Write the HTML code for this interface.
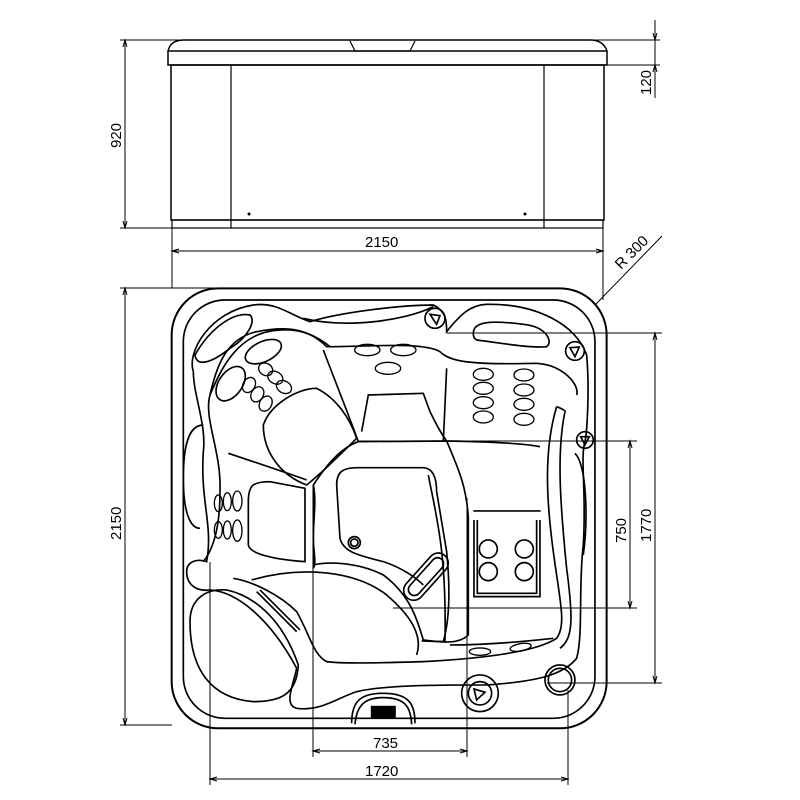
<!DOCTYPE html>
<html><head><style>
html,body{margin:0;padding:0;background:#fff;}
svg{display:block;}
text{font-family:"Liberation Sans",Arial,sans-serif;font-size:15px;fill:#000;}
</style></head><body>
<svg width="800" height="800" viewBox="0 0 800 800" xmlns="http://www.w3.org/2000/svg">
<g fill="none" stroke="#000" stroke-width="1">
<!-- Elevation view -->
<path d="M168,51 C170,43 175,40 185,40 L590,40 C600,40 605,45 607,51" stroke-width="1.5"/>
<rect x="168" y="51" width="439" height="14" stroke-width="1.5"/>
<path d="M350,41 L355,51 L410,51 L415,41" stroke-width="1.2"/>
<rect x="171" y="65" width="433" height="155" stroke-width="1.5"/>
<line x1="231" y1="65" x2="231" y2="228" stroke-width="1.2"/>
<line x1="544" y1="65" x2="544" y2="228" stroke-width="1.2"/>
<rect x="172" y="220" width="431" height="8" stroke-width="1.2"/>
<circle cx="249" cy="214" r="1" fill="#000"/>
<circle cx="525" cy="214" r="1" fill="#000"/>
<!-- 920 dim -->
<line x1="120" y1="40" x2="350" y2="40"/>
<line x1="120" y1="228" x2="172" y2="228"/>
<line x1="125" y1="40" x2="125" y2="228"/>
<path d="M123,47 L125,40 L127,47 M123,221 L125,228 L127,221"/>
<!-- 120 dim -->
<line x1="415" y1="40" x2="660" y2="40"/>
<line x1="607" y1="65" x2="660" y2="65"/>
<line x1="655" y1="20" x2="655" y2="98"/>
<path d="M653,33 L655,40 L657,33 M653,72 L655,65 L657,72"/>
<!-- 2150 horizontal -->
<line x1="172" y1="228" x2="172" y2="288"/>
<line x1="603" y1="228" x2="603" y2="300"/>
<line x1="172" y1="251" x2="603" y2="251"/>
<path d="M179,249 L172,251 L179,253 M596,249 L603,251 L596,253"/>
<!-- R300 -->
<line x1="596" y1="304" x2="662" y2="236"/>
<!-- plan dims -->
<line x1="120" y1="288" x2="250" y2="288"/>
<line x1="120" y1="725" x2="172" y2="725"/>
<line x1="125" y1="288" x2="125" y2="725"/>
<path d="M123,295 L125,288 L127,295 M123,718 L125,725 L127,718"/>
<line x1="447" y1="333" x2="662" y2="333"/>
<line x1="547" y1="683" x2="662" y2="683"/>
<line x1="655" y1="333" x2="655" y2="683"/>
<path d="M653,340 L655,333 L657,340 M653,676 L655,683 L657,676"/>
<line x1="358" y1="441" x2="637" y2="441"/>
<line x1="393" y1="608" x2="637" y2="608"/>
<line x1="630" y1="441" x2="630" y2="608"/>
<path d="M628,448 L630,441 L632,448 M628,601 L630,608 L632,601"/>
<line x1="210" y1="562" x2="210" y2="785"/>
<line x1="313" y1="485" x2="313" y2="757"/>
<line x1="467" y1="498" x2="467" y2="757"/>
<line x1="568" y1="690" x2="568" y2="785"/>
<line x1="313" y1="751" x2="467" y2="751"/>
<path d="M320,749 L313,751 L320,753 M460,749 L467,751 L460,753"/>
<line x1="210" y1="779" x2="568" y2="779"/>
<path d="M217,777 L210,779 L217,781 M561,777 L568,779 L561,781"/>
</g>
<text x="365" y="247">2150</text>
<text x="373" y="748">735</text>
<text x="365" y="776">1720</text>
<text transform="translate(121,148) rotate(-90)">920</text>
<text transform="translate(651,95) rotate(-90)">120</text>
<text transform="translate(121,540) rotate(-90)">2150</text>
<text transform="translate(651,542) rotate(-90)">1770</text>
<text transform="translate(626,543) rotate(-90)">750</text>
<text transform="translate(621,270) rotate(-45)">R 300</text>

<!-- Plan view in zoom coords -->
<g transform="translate(170,285) scale(0.3333)" fill="none" stroke="#000" stroke-width="5">
<rect x="5" y="10" width="1305" height="1320" rx="140" stroke-width="6"/>
<rect x="40" y="45" width="1235" height="1255" rx="125"/>
<!-- outer tub line -->
<path d="M70,260 C50,200 120,80 250,60 C320,50 360,90 420,110 C520,80 700,60 790,60 C830,80 830,110 830,140 C870,90 900,60 950,58 C1100,55 1220,120 1250,210 C1260,320 1250,450 1245,470 C1230,520 1250,620 1240,780 C1225,900 1240,1050 1220,1120 C1180,1170 1100,1190 950,1200 C800,1200 650,1200 560,1220 C500,1240 450,1280 380,1270 C340,1260 370,1200 380,1150"/>
<path d="M380,1150 C300,1000 200,920 120,915 C80,920 50,900 50,860 C50,830 80,820 110,830 C130,720 90,650 100,500 C110,420 70,330 70,260"/>
<path d="M100,830 C140,780 150,700 150,620 C155,500 100,400 120,330 C140,240 170,160 260,140 C360,120 420,135 470,185 C600,185 760,170 810,200 C840,230 900,240 1100,235 C1180,240 1230,300 1220,330"/>
<path d="M120,330 C150,260 200,140 330,135 C400,130 450,160 480,185"/>
<path d="M1160,365 C1120,500 1130,650 1150,800 C1170,950 1190,1020 1160,1060 C1100,1100 950,1120 760,1130 C600,1135 500,1135 470,1130 C430,1110 420,1050 380,980 C330,930 250,890 190,880"/>
<path d="M1185,380 C1160,500 1170,650 1190,850 C1210,1000 1210,1060 1170,1090"/>
<path d="M1160,365 C1175,370 1190,380 1185,380"/>
<!-- left seat / top lounges -->
<path d="M175,505 C250,530 340,560 410,585"/>
<path d="M460,195 C500,300 540,400 565,470 L830,468 C860,540 890,600 895,700 L895,1050 C870,1075 830,1075 760,1065 C740,1000 720,930 640,870 C560,830 470,830 430,840 L430,600 C470,540 510,490 565,470"/>
<path d="M575,440 L595,330 L760,325 L780,380 C800,420 810,440 830,468"/>
<path d="M830,250 L820,470 M830,468 C950,470 1060,475 1110,485"/>
<path d="M280,420 C300,360 380,310 440,310 C500,340 540,400 560,460 C520,500 460,560 410,600 C330,570 280,500 280,420Z"/>
<path d="M235,650 C235,600 250,590 300,590 L405,610 L405,830 C330,825 240,810 235,780Z"/>
<path d="M430,600 C440,650 430,700 430,760 C430,800 440,830 430,850"/>
<path d="M500,600 C500,560 520,548 560,548 L760,548 C790,550 800,580 800,620 L830,800 C840,900 840,1000 820,1070"/>
<path d="M500,600 L510,760 C520,800 560,810 640,830 C700,850 740,880 760,900"/>
<path d="M775,570 C800,700 830,800 825,1070"/>
<circle cx="553" cy="773" r="18"/>
<circle cx="553" cy="773" r="11"/>
<g transform="rotate(42 768 875)"><rect x="738" y="790" width="60" height="170" rx="30"/><rect x="750" y="805" width="36" height="140" rx="18"/></g>
<!-- bottom curved seat -->
<path d="M245,885 C400,840 560,860 650,930 C720,990 760,1050 740,1110"/>
<path d="M260,920 L380,1040 M270,915 L390,1035"/>
<path d="M755,1068 L820,1070 M840,1080 C950,1080 1060,1070 1150,1060"/>
<!-- bottom left lounge -->
<path d="M60,1010 C60,940 110,910 170,915 C260,935 340,1010 385,1140 C380,1230 330,1250 250,1250 C120,1240 60,1150 60,1010Z"/>
<!-- pillows -->
<path d="M75,210 C120,130 190,80 240,90 C260,110 230,160 180,190 C130,230 80,250 75,210Z"/>
<path d="M910,145 C910,110 960,105 1060,118 C1130,125 1150,170 1130,185 C1080,190 1000,175 920,165 C910,160 910,150 910,145Z"/>
<path d="M100,420 C60,420 40,470 40,580 C40,680 60,730 90,730"/>
<path d="M1215,505 C1250,540 1255,700 1240,810"/>
<path d="M400,100 C520,130 700,110 790,65"/>
<!-- top-left jets -->
<ellipse cx="280" cy="200" rx="58" ry="30" transform="rotate(-25 280 200)"/>
<ellipse cx="182" cy="296" rx="35" ry="58" transform="rotate(35 182 296)"/>
<g stroke-width="4">
<ellipse cx="287" cy="253" rx="22" ry="18" transform="rotate(30 287 253)"/>
<ellipse cx="316" cy="278" rx="24" ry="18" transform="rotate(30 316 278)"/>
<ellipse cx="342" cy="306" rx="24" ry="18" transform="rotate(30 342 306)"/>
<ellipse cx="237" cy="300" rx="18" ry="24" transform="rotate(30 237 300)"/>
<ellipse cx="262" cy="328" rx="18" ry="24" transform="rotate(30 262 328)"/>
<ellipse cx="287" cy="356" rx="18" ry="24" transform="rotate(30 287 356)"/>
<ellipse cx="592" cy="195" rx="38" ry="17"/>
<ellipse cx="700" cy="195" rx="38" ry="17"/>
<ellipse cx="654" cy="250" rx="38" ry="18"/>
<ellipse cx="940" cy="268" rx="30" ry="18"/><ellipse cx="940" cy="310" rx="30" ry="18"/><ellipse cx="940" cy="353" rx="30" ry="18"/><ellipse cx="940" cy="396" rx="30" ry="18"/>
<ellipse cx="1062" cy="270" rx="30" ry="18"/><ellipse cx="1062" cy="315" rx="30" ry="18"/><ellipse cx="1062" cy="358" rx="30" ry="18"/><ellipse cx="1062" cy="403" rx="30" ry="18"/>
<ellipse cx="145" cy="655" rx="12" ry="25"/><ellipse cx="172" cy="650" rx="12" ry="27"/><ellipse cx="202" cy="648" rx="14" ry="30"/>
<ellipse cx="145" cy="735" rx="12" ry="25"/><ellipse cx="172" cy="735" rx="12" ry="27"/><ellipse cx="202" cy="737" rx="14" ry="32"/>
<ellipse cx="930" cy="1100" rx="32" ry="11"/><ellipse cx="1052" cy="1087" rx="32" ry="11" transform="rotate(-10 1052 1087)"/>
</g>
<line x1="910" y1="678" x2="1112" y2="678"/>
<path d="M912,705 L912,935 L1110,935 L1110,705"/>
<path d="M922,705 L922,925 L1100,925 L1100,705"/>
<circle cx="955" cy="792" r="27"/><circle cx="1063" cy="792" r="27"/><circle cx="955" cy="860" r="27"/><circle cx="1063" cy="860" r="27"/>
<!-- fittings -->
<circle cx="795" cy="100" r="30"/><path d="M780,88 L810,92 L800,118 Z"/>
<circle cx="1215" cy="198" r="28"/><path d="M1200,188 L1228,186 L1215,215 Z"/>
<circle cx="1245" cy="465" r="25"/><path d="M1232,455 L1258,455 L1245,480 Z"/>
<circle cx="930" cy="1225" r="55"/><circle cx="930" cy="1225" r="35"/><path d="M912,1212 L945,1222 L920,1245 Z"/>
<circle cx="1170" cy="1185" r="45"/><circle cx="1170" cy="1185" r="35"/>
<!-- control -->
<path d="M545,1315 C545,1250 570,1225 640,1225 C720,1225 735,1260 735,1315"/>
<path d="M555,1318 C560,1260 585,1238 640,1238 C705,1238 722,1265 725,1318"/>
<rect x="605" y="1265" width="70" height="30" fill="#000"/>
</g>
</svg>
</body></html>
